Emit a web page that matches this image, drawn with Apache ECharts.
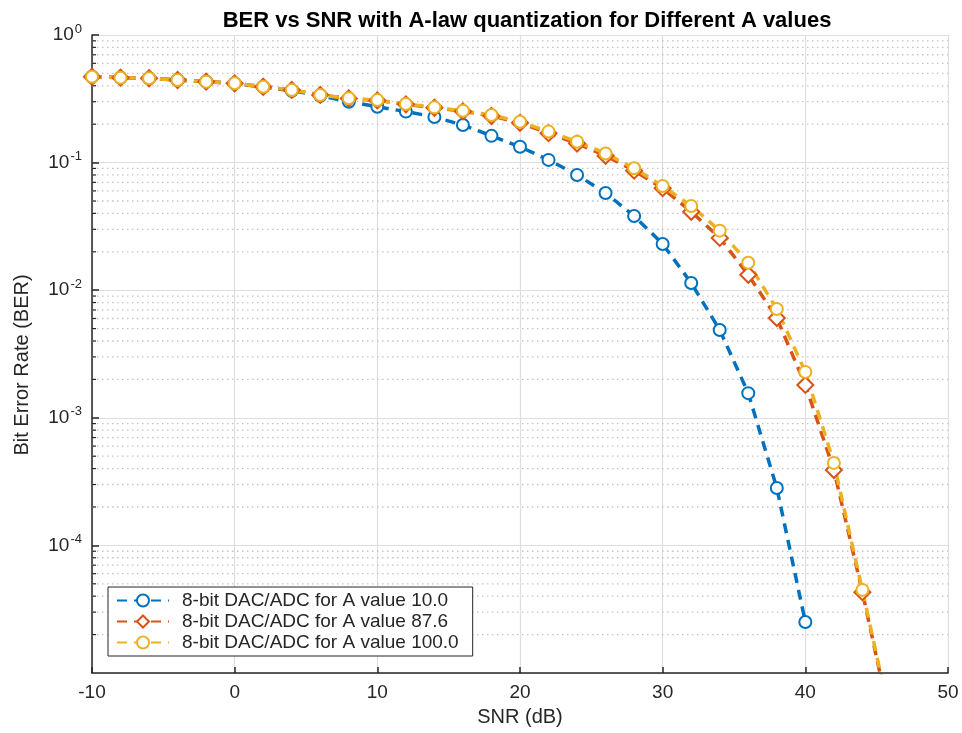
<!DOCTYPE html>
<html>
<head>
<meta charset="utf-8">
<script src="https://cdn.jsdelivr.net/npm/echarts@6/dist/echarts.min.js"></script>
<style>
html,body{margin:0;padding:0;background:#fff;}
#main{width:962px;height:733px;}
</style>
</head>
<body>
<div id="main"></div>
<script>
// ---- data ----
const snrBlue = [-10,-8,-6,-4,-2,0,2,4,6,8,10,12,14,16,18,20,22,24,26,28,30,32,34,36,38,40];
const berA10 = [0.471,0.463,0.458,0.444,0.431,0.418,0.391,0.366,0.334,0.300,0.274,0.251,0.228,0.197,0.162,0.133,0.105,0.0800,0.0578,0.0382,0.0230,0.0114,0.00488,0.00156,0.000282,0.0000251];

const snrA = [-10,-8,-6,-4,-2,0,2,4,6,8,10,12,14,16,18,20,22,24,26,28,30,32,34,36,38,40,42,44,46];
const berA876 = [0.471,0.463,0.458,0.444,0.431,0.418,0.393,0.371,0.339,0.318,0.307,0.286,0.269,0.252,0.232,0.205,0.170,0.141,0.113,0.0865,0.0630,0.0412,0.0257,0.0132,0.00605,0.00181,0.000390,0.0000430,0.0000040];
const berA100 = [0.471,0.463,0.458,0.444,0.431,0.418,0.393,0.371,0.339,0.319,0.309,0.288,0.271,0.255,0.236,0.209,0.175,0.146,0.118,0.0902,0.0656,0.0457,0.0293,0.0164,0.00713,0.00229,0.000443,0.0000448,0.0000042];

const seriesNames = ['8-bit DAC/ADC for A value 10.0','8-bit DAC/ADC for A value 87.6','8-bit DAC/ADC for A value 100.0'];
const minorMultipliers = [2,3,4,5,6,7,8,9];
const minorDecades = [-5,-4,-3,-2,-1];

// ---- build ----
const pair = (xs, ys) => xs.map((x, i) => [x, ys[i]]);
const minorVals = [];
minorDecades.forEach(d => minorMultipliers.forEach(m => minorVals.push([-10, m * Math.pow(10, d)])));

const txt = '#262626';
const FONT = 'Liberation Sans, Arial, sans-serif';

const chart = echarts.init(document.getElementById('main'));
const lineCommon = (color, symbol, size) => ({
  type: 'line',
  symbol: symbol,
  symbolSize: size,
  showSymbol: true,
  clip: true,
  lineStyle: { color: color, width: 3.5, type: [10, 7] },
  itemStyle: { color: color, borderColor: color, borderWidth: 4 },
  emphasis: { disabled: true },
  z: 5
});

chart.setOption({
  animation: false,
  backgroundColor: '#fff',
  textStyle: { fontFamily: FONT },
  title: {
    text: 'BER vs SNR with A-law quantization for Different A values',
    left: 522, textAlign: 'center', top: 5,
    textStyle: { fontSize: 22, fontWeight: 'bold', color: '#000', fontFamily: FONT }
  },
  grid: { left: 92, right: 14, top: 35, bottom: 60, containLabel: false },
  legend: {
    data: seriesNames,
    orient: 'vertical',
    left: 108, top: 587,
    padding: [4, 14, 4, 8],
    itemGap: 2,
    itemWidth: 52,
    itemHeight: 15,
    backgroundColor: '#fff',
    borderColor: '#262626',
    borderWidth: 1,
    borderRadius: 0,
    textStyle: { fontSize: 19, color: txt, fontFamily: FONT, lineHeight: 19, padding: [0,0,0,8] }
  },
  xAxis: {
    type: 'value', min: -10, max: 50, interval: 10,
    name: 'SNR (dB)', nameLocation: 'middle', nameGap: 34,
    nameTextStyle: { fontSize: 20, color: txt, fontFamily: FONT },
    axisLine: { onZero: false, lineStyle: { color: txt, width: 1.5 } },
    axisTick: { inside: true, length: 6, lineStyle: { color: txt, width: 1.5 } },
    axisLabel: { fontSize: 19, color: txt, margin: 10, fontFamily: FONT },
    splitLine: { show: true, lineStyle: { color: '#dedede', width: 1.2 } }
  },
  yAxis: {
    type: 'log', logBase: 10, min: 1e-5, max: 1,
    name: 'Bit Error Rate (BER)', nameLocation: 'middle', nameGap: 60,
    nameTextStyle: { fontSize: 20, color: txt, fontFamily: FONT, padding: [0, 22, 0, 0] },
    axisLine: { onZero: false, lineStyle: { color: txt, width: 1.5 } },
    axisTick: { inside: true, length: 7, lineStyle: { color: txt, width: 1.5 } },
    axisLabel: {
      showMinLabel: false, margin: 10,
      formatter: v => '{b|10}{s|' + Math.round(Math.log10(v)) + '}',
      rich: {
        b: { fontSize: 19, color: txt, fontFamily: FONT },
        s: { fontSize: 13, color: txt, fontFamily: FONT, padding: [0, 0, 12, 1] }
      }
    },
    splitLine: { show: true, lineStyle: { color: '#dedede', width: 1.2 } }
  },
  series: [
    {
      type: 'custom',
      name: 'minor',
      silent: true,
      clip: false,
      z: 1,
      data: minorVals,
      renderItem: function (params, api) {
        const cs = params.coordSys;
        const y = api.coord([-10, api.value(1)])[1];
        return {
          type: 'group',
          children: [
            { type: 'line', shape: { x1: cs.x, y1: y, x2: cs.x + cs.width, y2: y },
              style: { stroke: '#c4c4c4', lineWidth: 1.3, lineDash: [1.5, 3.5] } },
            { type: 'line', shape: { x1: cs.x, y1: y, x2: cs.x + 4, y2: y },
              style: { stroke: txt, lineWidth: 1.2 } }
          ]
        };
      }
    },
    Object.assign(lineCommon('#0072BD', 'emptyCircle', 12), { name: seriesNames[0], data: pair(snrBlue, berA10) }),
    Object.assign(lineCommon('#D95319', 'emptyDiamond', 16), { name: seriesNames[1], data: pair(snrA, berA876) }),
    Object.assign(lineCommon('#EDB120', 'emptyCircle', 12), { name: seriesNames[2], data: pair(snrA, berA100) })
  ]
});
</script>
</body>
</html>
